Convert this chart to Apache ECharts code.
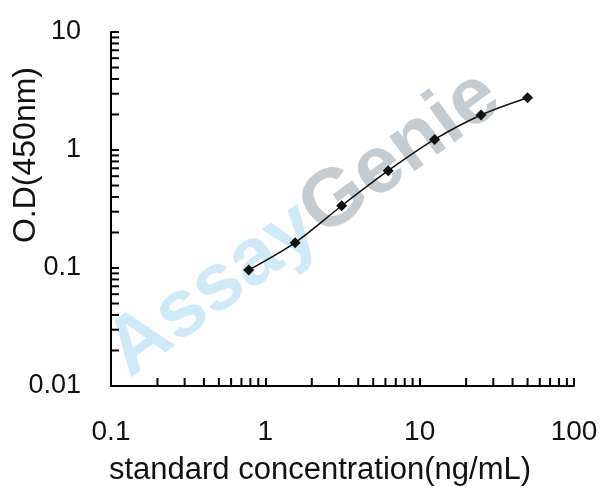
<!DOCTYPE html>
<html>
<head>
<meta charset="utf-8">
<script src="https://cdn.jsdelivr.net/npm/echarts@6/dist/echarts.min.js"></script>
<style>
html,body{margin:0;padding:0;background:#fff;}
#main{width:608px;height:495px;}
</style>
</head>
<body>
<div id="main"></div>
<script>
// Data
var concentrations = [0.78, 1.56, 3.125, 6.25, 12.5, 25, 50];
var odValues = [0.096, 0.164, 0.337, 0.668, 1.23, 1.98, 2.77];
// Minor tick values (log axis, 2..9 per decade)
var xMinorTicks = [0.2,0.3,0.4,0.5,0.6,0.7,0.8,0.9,2,3,4,5,6,7,8,9,20,30,40,50,60,70,80,90];
var yMinorTicks = [0.02,0.03,0.04,0.05,0.06,0.07,0.08,0.09,0.2,0.3,0.4,0.5,0.6,0.7,0.8,0.9,2,3,4,5,6,7,8,9];
var xName = 'standard concentration(ng/mL)';
var yName = 'O.D(450nm)';
var watermarkA = 'Assay';
var watermarkB = 'Genie';

var FONT = '"Liberation Sans", Arial, sans-serif';
var chart = echarts.init(document.getElementById('main'), null, {renderer: 'canvas'});

function tickSeries(values, isX) {
  return {
    type: 'custom',
    silent: true,
    clip: false,
    z: 3,
    data: values.map(function (v) { return isX ? [v, 0.01] : [0.1, v]; }),
    renderItem: function (params, api) {
      var p = api.coord([api.value(0), api.value(1)]);
      var shape = isX ? {x1: p[0], y1: p[1], x2: p[0], y2: p[1] - 8}
                      : {x1: p[0], y1: p[1], x2: p[0] + 8, y2: p[1]};
      return {type: 'line', shape: shape, style: {stroke: '#000', lineWidth: 2}};
    }
  };
}

var option = {
  backgroundColor: '#fff',
  animation: false,
  grid: {left: 111, top: 32, width: 463, height: 354, containLabel: false},
  xAxis: {
    type: 'log', logBase: 10, min: 0.1, max: 100,
    axisLine: {show: true, onZero: false, lineStyle: {color: '#000', width: 2}},
    axisTick: {show: true, inside: true, length: 8, lineStyle: {color: '#000', width: 2}},
    minorTick: {show: false},
    splitLine: {show: false},
    axisLabel: {fontFamily: FONT, fontSize: 28, color: '#111', margin: 32,
      formatter: function (v) { return String(+v.toPrecision(6)); }}
  },
  yAxis: {
    type: 'log', logBase: 10, min: 0.01, max: 10,
    axisLine: {show: true, onZero: false, lineStyle: {color: '#000', width: 2}},
    axisTick: {show: true, inside: true, length: 8, lineStyle: {color: '#000', width: 2}},
    minorTick: {show: false},
    splitLine: {show: false},
    axisLabel: {fontFamily: FONT, fontSize: 27, color: '#111', margin: 30,
      formatter: function (v) { return String(+v.toPrecision(6)); }}
  },
  graphic: [
    {
      type: 'text', z: 0, silent: true,
      x: 304, y: 224, rotation: 36 * Math.PI / 180,
      style: {
        text: '{a|' + watermarkA + '}{g|' + watermarkB + '}',
        align: 'center', verticalAlign: 'middle',
        font: 'bold 81px ' + FONT,
        rich: {
          a: {fill: '#cbe7f6', font: 'bold 81px ' + FONT},
          g: {fill: '#bec5cc', font: 'bold 81px ' + FONT}
        },
        opacity: 0.9
      }
    },
    {
      type: 'text', z: 10, silent: true,
      x: 26, y: 155, rotation: Math.PI / 2,
      style: {text: yName, align: 'center', verticalAlign: 'middle',
        font: '32px ' + FONT, fill: '#111'}
    },
    {
      type: 'text', z: 10, silent: true,
      x: 320, y: 470,
      style: {text: xName, align: 'center', verticalAlign: 'middle',
        font: '31px ' + FONT, fill: '#111'}
    }
  ],
  series: [
    {
      type: 'line', z: 5,
      data: concentrations.map(function (c, i) { return [c, odValues[i]]; }),
      smooth: 0.3,
      symbol: 'diamond', symbolSize: 11,
      lineStyle: {color: '#111', width: 1.5},
      itemStyle: {color: '#111'}
    },
    tickSeries(xMinorTicks, true),
    tickSeries(yMinorTicks, false)
  ]
};
chart.setOption(option);
</script>
</body>
</html>
